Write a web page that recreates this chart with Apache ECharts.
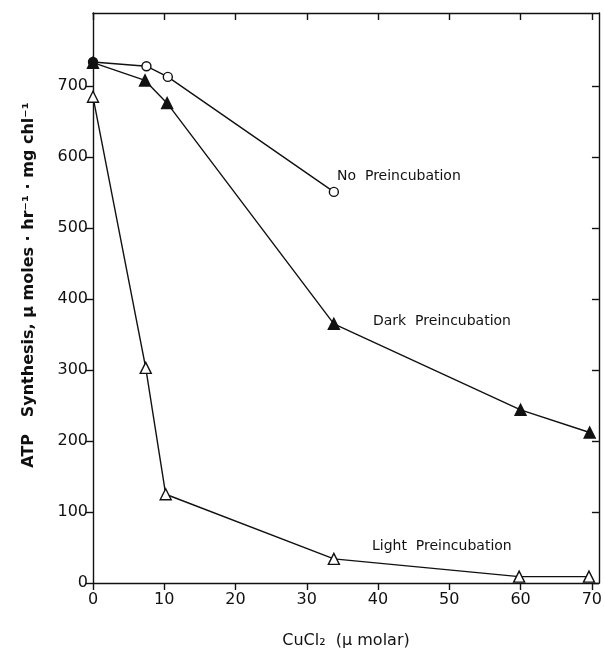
<!DOCTYPE html>
<html>
<head>
<meta charset="utf-8">
<script src="https://cdn.jsdelivr.net/npm/echarts@6/dist/echarts.min.js"></script>
<style>
  html, body { margin: 0; padding: 0; background: #fff; }
  #chart { width: 605px; height: 656px; }
</style>
</head>
<body>
<div id="chart"></div>
<script>
// CuCl2 concentration (µM) vs ATP synthesis
const noPreX = [0, 7.5, 10.5, 33.8];
const noPreY = [734, 728, 713, 551];
const darkX = [0, 7.3, 10.4, 33.8, 60, 69.7];
const darkY = [733, 708, 676, 365, 244, 212];
const lightX = [0, 7.4, 10.2, 33.8, 59.8, 69.6];
const lightY = [685, 303, 125, 34, 9, 9];
const xTicks = [0, 10, 20, 30, 40, 50, 60, 70];
const yTicks = [0, 100, 200, 300, 400, 500, 600, 700];

const pairs = (xs, ys) => xs.map((x, i) => [x, ys[i]]);
const font = 'DejaVu Sans';
const ink = '#111';

let chart = echarts.init(document.getElementById('chart'));

let lineSeries = function (name, data, symbol, filled) {
    return {
        name: name,
        type: 'line',
        data: data,
        symbol: symbol,
        symbolSize: symbol === 'circle' ? 9 : 11,
        showAllSymbol: true,
        lineStyle: { color: ink, width: 1.4 },
        itemStyle: { color: filled ? ink : '#fff', borderColor: ink, borderWidth: 1.4 },
        z: 3
    };
};

let noData = pairs(noPreX, noPreY);
noData[0] = { value: noData[0], itemStyle: { color: ink } }; // solid dot at zero

let axisLine = { show: true, onZero: false, lineStyle: { color: ink, width: 1.4 } };

let option = {
    animation: false,
    backgroundColor: '#fff',
    grid: { left: 93, right: 5, top: 13, bottom: 73 },
    xAxis: [
        {
            type: 'value', min: 0, max: 71, interval: 10,
            axisLine: axisLine,
            axisTick: { show: true, length: 7, customValues: xTicks, lineStyle: { color: ink, width: 1.4 } },
            splitLine: { show: false },
            axisLabel: { color: ink, fontFamily: font, fontSize: 16, margin: 9, customValues: xTicks },
            name: 'CuCl₂  (μ molar)',
            nameLocation: 'middle', nameGap: 50,
            nameTextStyle: { color: ink, fontFamily: font, fontSize: 16 }
        },
        {
            type: 'value', min: 0, max: 71, interval: 10, position: 'top',
            axisLine: axisLine,
            axisTick: { show: true, inside: true, length: 7, customValues: xTicks, lineStyle: { color: ink, width: 1.4 } },
            axisLabel: { show: false },
            splitLine: { show: false }
        }
    ],
    yAxis: [
        {
            type: 'value', min: 0, max: 803, interval: 100,
            axisLine: axisLine,
            axisTick: { show: true, length: 7, customValues: yTicks, lineStyle: { color: ink, width: 1.4 } },
            splitLine: { show: false },
            axisLabel: { color: ink, fontFamily: font, fontSize: 16, margin: 5, customValues: yTicks },
            name: 'ATP   Synthesis, μ moles · hr⁻¹ · mg chl⁻¹',
            nameLocation: 'middle', nameGap: 56, nameRotate: 90,
            nameTextStyle: { color: ink, fontFamily: font, fontSize: 16, fontWeight: 'bold', padding: [0, 0, 0, 26] }
        },
        {
            type: 'value', min: 0, max: 803, interval: 100, position: 'right',
            axisLine: axisLine,
            axisTick: { show: true, inside: true, length: 7, customValues: yTicks, lineStyle: { color: ink, width: 1.4 } },
            axisLabel: { show: false },
            splitLine: { show: false }
        }
    ],
    series: [
        lineSeries('Light Preincubation', pairs(lightX, lightY), 'triangle', false),
        lineSeries('Dark Preincubation', pairs(darkX, darkY), 'triangle', true),
        lineSeries('No Preincubation', noData, 'circle', false),
        // keeps the top and right frame axes alive
        { type: 'line', xAxisIndex: 1, yAxisIndex: 1, data: [], silent: true }
    ],
    graphic: [
        { type: 'text', left: 337, top: 169, style: { text: 'No  Preincubation', font: '14px ' + font, fill: ink } },
        { type: 'text', left: 373, top: 314, style: { text: 'Dark  Preincubation', font: '14px ' + font, fill: ink } },
        { type: 'text', left: 372, top: 539, style: { text: 'Light  Preincubation', font: '14px ' + font, fill: ink } }
    ]
};
chart.setOption(option);
</script>
</body>
</html>
